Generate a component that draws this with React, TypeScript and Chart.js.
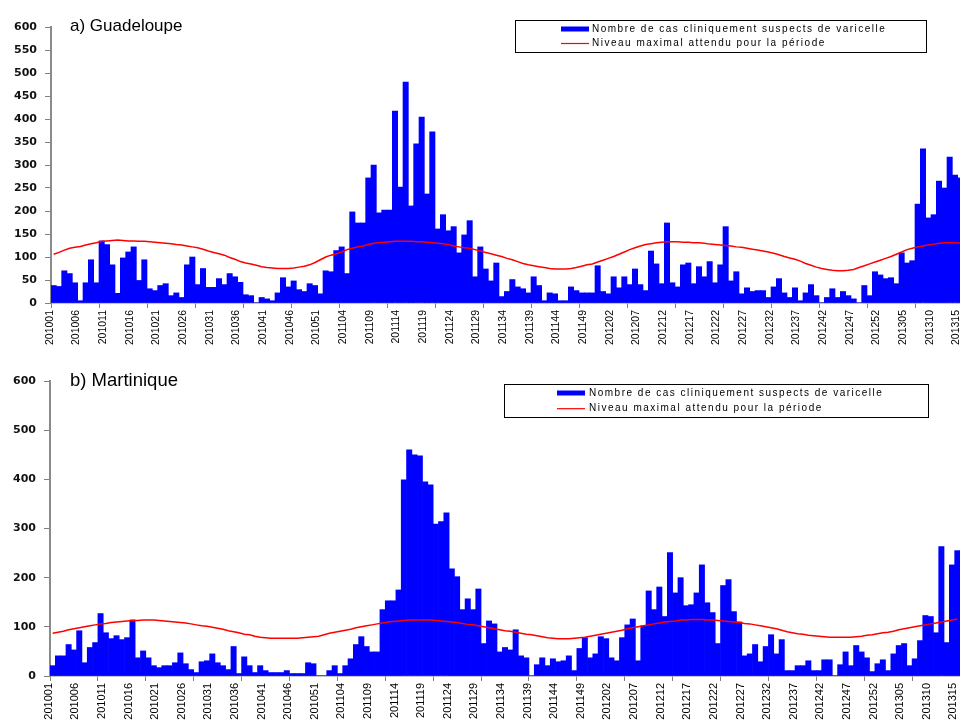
import React, { useEffect, useRef } from 'react';
import { Chart, registerables } from 'chart.js';

Chart.register(...registerables);

// ---- categories (ISO weeks 2010-01 .. 2013-15) ----
const years = [2010, 2011, 2012, 2013];
const weeksPerYear = [52, 52, 52, 15];
const weeks: string[] = [];
years.forEach((y, k) => {
  for (let w = 1; w <= weeksPerYear[k]; w++) weeks.push(`${y}${String(w).padStart(2, '0')}`);
});

const casesLabel = 'Nombre de cas cliniquement suspects de varicelle';
const thresholdLabel = 'Niveau maximal attendu pour la période';

// ---- a) Guadeloupe ----
const guadeloupeTitle = 'a) Guadeloupe';
const guadeloupeCases = [
  38, 36, 70, 64, 44, 5, 44, 94, 44, 135, 127, 83, 21, 98, 111, 122, 49, 94, 31, 27,
  38, 42, 16, 22, 12, 83, 100, 40, 75, 34, 34, 53, 40, 64, 57, 45, 18, 16, 0, 12,
  9, 5, 22, 55, 35, 48, 29, 25, 42, 38, 20, 70, 68, 114, 122, 64, 198, 174, 174, 272,
  300, 196, 202, 202, 417, 252, 480, 211, 346, 404, 237, 372, 161, 192, 157, 166, 109, 148, 179, 57,
  122, 74, 48, 87, 14, 25, 51, 35, 31, 22, 57, 38, 5, 22, 20, 5, 5, 35, 27, 22,
  22, 22, 81, 25, 20, 57, 33, 57, 40, 74, 40, 27, 113, 85, 42, 174, 44, 35, 83, 87,
  42, 79, 57, 90, 44, 83, 166, 48, 68, 20, 33, 25, 27, 27, 12, 35, 53, 22, 12, 33,
  5, 22, 40, 16, 0, 12, 31, 12, 25, 16, 9, 0, 38, 16, 68, 61, 53, 55, 42, 109,
  87, 92, 215, 335, 185, 192, 265, 250, 317, 278, 272,
];
const guadeloupeThreshold = [
  106, 110, 115, 119, 121, 123, 126, 129, 131, 134, 135, 136, 137, 136, 135, 135, 134, 134, 133, 132,
  131, 130, 129, 127, 126, 124, 122, 120, 117, 113, 110, 107, 104, 99, 95, 90, 87, 85, 82, 79,
  77, 76, 75, 75, 75, 76, 78, 80, 83, 88, 94, 100, 104, 107, 111, 116, 119, 122, 124, 127,
  130, 131, 132, 133, 134, 134, 134, 134, 133, 133, 132, 131, 130, 129, 127, 124, 122, 120, 119, 116,
  113, 110, 107, 104, 101, 97, 94, 90, 86, 83, 81, 79, 77, 75, 74, 74, 74, 75, 77, 80,
  83, 85, 89, 93, 97, 101, 106, 111, 116, 120, 124, 127, 129, 131, 132, 133, 133, 133, 132, 132,
  131, 131, 130, 128, 127, 126, 125, 124, 122, 121, 119, 117, 115, 113, 111, 108, 105, 101, 98, 95,
  91, 86, 82, 78, 75, 73, 71, 70, 70, 71, 73, 77, 81, 85, 89, 93, 97, 101, 106, 111,
  116, 119, 122, 124, 126, 128, 130, 131, 131, 131, 130,
];
const guadeloupeYStep = 50;

// ---- b) Martinique ----
const martiniqueTitle = 'b) Martinique';
const martiniqueCases = [
  21, 41, 41, 64, 53, 92, 27, 58, 68, 127, 88, 76, 82, 74, 78, 114, 37, 51, 37, 21,
  17, 21, 21, 27, 47, 25, 13, 7, 29, 31, 45, 27, 21, 13, 60, 5, 39, 21, 7, 21,
  11, 7, 7, 7, 11, 5, 5, 5, 27, 25, 0, 0, 11, 21, 5, 21, 35, 64, 80, 60,
  49, 49, 135, 153, 153, 175, 399, 460, 450, 448, 395, 389, 309, 314, 332, 218, 202, 135, 157, 135,
  177, 66, 112, 106, 49, 58, 53, 94, 41, 37, 0, 23, 37, 21, 35, 29, 31, 41, 11, 56,
  78, 37, 45, 80, 76, 37, 31, 78, 104, 116, 31, 102, 173, 135, 181, 121, 251, 169, 200, 143,
  145, 169, 226, 149, 129, 66, 184, 196, 131, 110, 41, 45, 64, 29, 60, 84, 45, 74, 11, 11,
  21, 21, 31, 11, 11, 33, 33, 0, 23, 49, 21, 62, 49, 37, 9, 25, 33, 11, 45, 62,
  66, 21, 35, 72, 123, 121, 88, 263, 68, 226, 255,
];
const martiniqueThreshold = [
  87, 89, 91, 94, 96, 98, 100, 102, 104, 106, 107, 109, 110, 111, 112, 113, 113, 114, 114, 114,
  113, 112, 111, 110, 109, 108, 106, 104, 102, 101, 99, 97, 95, 92, 90, 88, 85, 84, 81, 79,
  78, 77, 77, 77, 77, 77, 77, 78, 79, 80, 81, 84, 87, 89, 91, 93, 95, 98, 100, 102,
  104, 106, 108, 110, 111, 112, 113, 114, 114, 114, 114, 114, 113, 112, 111, 110, 109, 107, 105, 104,
  102, 100, 98, 96, 94, 92, 91, 89, 87, 85, 84, 82, 80, 78, 77, 76, 76, 76, 77, 78,
  79, 81, 83, 85, 87, 89, 91, 93, 96, 98, 100, 102, 104, 106, 108, 110, 111, 112, 114, 114,
  115, 115, 115, 114, 114, 113, 112, 111, 110, 109, 107, 106, 104, 102, 100, 98, 96, 93, 90, 88,
  86, 85, 83, 82, 81, 80, 79, 79, 79, 79, 79, 80, 81, 83, 84, 86, 88, 89, 91, 94,
  96, 98, 100, 102, 104, 106, 108, 110, 112, 114, 116,
];
const martiniqueYStep = 100;

const yMax = 600;

// ---- plugins: panel title and boxed legend ----
const panelTitlePlugin = {
  id: 'panelTitle',
  afterDraw(chart: any, _args: any, opts: any) {
    if (!opts || !opts.text) return;
    const ctx = chart.ctx;
    ctx.save();
    ctx.font = `${opts.size}px "Liberation Sans", Arial, sans-serif`;
    ctx.fillStyle = '#000';
    ctx.textAlign = 'left';
    ctx.textBaseline = 'alphabetic';
    ctx.fillText(opts.text, opts.x, opts.y);
    ctx.restore();
  },
};

const boxLegendPlugin = {
  id: 'boxLegend',
  afterDraw(chart: any, _args: any, o: any) {
    if (!o || !o.w) return;
    const ctx = chart.ctx;
    const ds = chart.data.datasets;
    const bar = ds.find((d: any) => d.type === 'bar');
    const line = ds.find((d: any) => d.type === 'line');
    ctx.save();
    ctx.fillStyle = '#fff';
    ctx.fillRect(o.x, o.y, o.w, o.h);
    ctx.strokeStyle = '#000';
    ctx.lineWidth = 1;
    ctx.strokeRect(o.x + 0.5, o.y + 0.5, o.w, o.h);
    // bar swatch
    ctx.fillStyle = bar.backgroundColor;
    ctx.fillRect(o.swatchX, o.row1 - 2.5, o.swatchW, 5);
    // line swatch
    ctx.strokeStyle = line.borderColor;
    ctx.lineWidth = 1.2;
    ctx.beginPath();
    ctx.moveTo(o.swatchX, o.row2);
    ctx.lineTo(o.swatchX + o.swatchW, o.row2);
    ctx.stroke();
    ctx.fillStyle = '#000';
    ctx.font = '10px "Liberation Sans", Arial, sans-serif';
    (ctx as any).letterSpacing = '1.5px';
    ctx.textAlign = 'left';
    ctx.textBaseline = 'middle';
    ctx.fillText(bar.label, o.textX, o.row1);
    ctx.fillText(line.label, o.textX, o.row2);
    ctx.restore();
  },
};

type Panel = {
  title: string;
  titleSize: number;
  titleX: number;
  titleY: number;
  cases: number[];
  threshold: number[];
  step: number;
  padTop: number;
  axisW: number;
  axisH: number;
  xFont: number;
  legend: any;
};

function makeConfig(p: Panel): any {
  return {
    type: 'bar',
    data: {
      labels: weeks,
      datasets: [
        {
          type: 'line',
          label: thresholdLabel,
          data: p.threshold,
          borderColor: '#FF0000',
          borderWidth: 1.5,
          pointRadius: 0,
          tension: 0,
          fill: false,
          order: 0,
        },
        {
          type: 'bar',
          label: casesLabel,
          data: p.cases,
          backgroundColor: '#0000FF',
          borderWidth: 0,
          barPercentage: 1,
          categoryPercentage: 1,
          order: 1,
        },
      ],
    },
    options: {
      animation: false,
      responsive: false,
      maintainAspectRatio: false,
      events: [],
      layout: { padding: { top: p.padTop, left: 0, right: 0, bottom: 0 } },
      plugins: {
        legend: { display: false },
        tooltip: { enabled: false },
        title: { display: false },
        panelTitle: { text: p.title, size: p.titleSize, x: p.titleX, y: p.titleY },
        boxLegend: p.legend,
      },
      scales: {
        x: {
          type: 'category',
          offset: true,
          grid: {
            offset: true,
            drawOnChartArea: false,
            drawTicks: true,
            tickLength: 5,
            color: (c: any) => (typeof c.index === 'number' && c.index % 9 === 0 ? '#808080' : 'rgba(0,0,0,0)'),
          },
          border: { color: '#8a8a8a', width: 1.5 },
          ticks: {
            autoSkip: false,
            minRotation: 90,
            maxRotation: 90,
            padding: 2,
            labelOffset: -4,
            color: '#000',
            font: { family: '"Liberation Sans", Arial, sans-serif', size: p.xFont },
            callback: (_v: any, i: number) => (i % 5 === 0 ? weeks[i] : ''),
          },
          afterFit: (s: any) => {
            s.height = p.axisH;
            s.paddingLeft = 0;
            s.paddingRight = 0;
          },
        },
        y: {
          min: 0,
          max: yMax,
          ticks: {
            stepSize: p.step,
            padding: 8,
            color: '#111',
            font: { family: '"DejaVu Sans", sans-serif', size: 11, weight: 'bold' },
          },
          grid: { drawOnChartArea: false, tickLength: 6, color: '#808080' },
          border: { color: '#8a8a8a', width: 2 },
          afterFit: (s: any) => {
            s.width = p.axisW;
            s.paddingTop = 0;
            s.paddingBottom = 0;
          },
        },
      },
    },
    plugins: [panelTitlePlugin, boxLegendPlugin],
  };
}

const topPanel: Panel = {
  title: guadeloupeTitle,
  titleSize: 17,
  titleX: 70,
  titleY: 31,
  cases: guadeloupeCases,
  threshold: guadeloupeThreshold,
  step: guadeloupeYStep,
  padTop: 27,
  axisW: 51,
  axisH: 47,
  xFont: 10.5,
  legend: { x: 515, y: 20, w: 411, h: 32, swatchX: 561, swatchW: 28, textX: 592, row1: 29, row2: 43.5 },
};

const bottomPanel: Panel = {
  title: martiniqueTitle,
  titleSize: 18.5,
  titleX: 70,
  titleY: 26,
  cases: martiniqueCases,
  threshold: martiniqueThreshold,
  step: martiniqueYStep,
  padTop: 21,
  axisW: 50,
  axisH: 46,
  xFont: 11,
  legend: { x: 504, y: 24, w: 424, h: 33, swatchX: 557, swatchW: 28, textX: 589, row1: 33, row2: 48.7 },
};

function ChartCanvas({ panel, width, height, top }: { panel: Panel; width: number; height: number; top: number }) {
  const ref = useRef<HTMLCanvasElement | null>(null);
  useEffect(() => {
    if (!ref.current) return;
    const chart = new Chart(ref.current, makeConfig(panel));
    return () => chart.destroy();
  }, [panel]);
  return (
    <canvas
      ref={ref}
      width={width}
      height={height}
      style={{ position: 'absolute', left: 0, top, width, height, display: 'block' }}
    />
  );
}

export default function App() {
  return (
    <div
      style={{
        position: 'fixed',
        left: 0,
        top: 0,
        width: 960,
        height: 720,
        overflow: 'hidden',
        background: '#fff',
      }}
    >
      <ChartCanvas panel={topPanel} width={963} height={350} top={0} />
      <ChartCanvas panel={bottomPanel} width={960} height={362} top={360} />
    </div>
  );
}
